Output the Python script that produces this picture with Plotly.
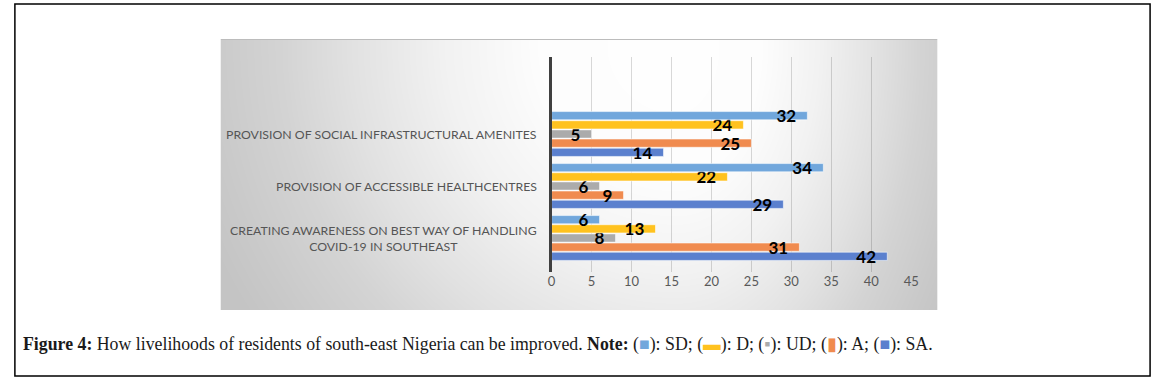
import zlib, struct, base64
import numpy as np
import plotly.graph_objects as go

# ---------------- data ----------------
categories = [
    "PROVISION OF SOCIAL INFRASTRUCTURAL AMENITES",
    "PROVISION OF ACCESSIBLE HEALTHCENTRES",
    "CREATING AWARENESS ON BEST WAY OF HANDLING<br>COVID-19 IN SOUTHEAST",
]
sd_values = [32, 34, 6]
d_values = [24, 22, 13]
ud_values = [5, 6, 8]
a_values = [25, 9, 31]
sa_values = [14, 29, 42]
x_ticks = [0, 5, 10, 15, 20, 25, 30, 35, 40, 45]

series_names = ["SA", "A", "UD", "D", "SD"]
series_values = [sa_values, a_values, ud_values, d_values, sd_values]
series_colors = ["#5B80CE", "#F08B4F", "#ABABAB", "#FFC21F", "#71A7DC"]

W, H = 1166, 384


def px_x(p):
    return p / W


def px_y(p):
    return 1 - p / H


# ---------------- background gradient image ----------------
def png_data_uri(arr):
    h, w = arr.shape
    raw = b"".join(b"\x00" + arr[i].tobytes() for i in range(h))

    def chunk(t, d):
        c = struct.pack(">I", len(d)) + t + d
        return c + struct.pack(">I", zlib.crc32(t + d) & 0xFFFFFFFF)

    png = (b"\x89PNG\r\n\x1a\n"
           + chunk(b"IHDR", struct.pack(">IIBBBBB", w, h, 8, 0, 0, 0, 0))
           + chunk(b"IDAT", zlib.compress(raw, 9))
           + chunk(b"IEND", b""))
    return "data:image/png;base64," + base64.b64encode(png).decode()


bx0, by0, bx1, by1 = 219, 39, 943, 310
gw, gh = bx1 - bx0, by1 - by0
xs = np.arange(gw) + bx0 + 0.5
ys = np.arange(gh) + by0 + 0.5
XX, YY = np.meshgrid(xs, ys)
cx, cy = 680, 45
rx = np.where(XX < cx, 470.0, 290.0)
dd = np.sqrt(((XX - cx) / rx) ** 2 + ((YY - cy) / 460.0) ** 2)
gray = np.interp(dd, [0, 0.3, 0.5, 0.7, 0.85, 1.0, 1.1],
                 [255, 253, 242, 226, 212, 202, 196])
gray[0, :] = 188
bg_uri = png_data_uri(gray.astype(np.uint8))

# ---------------- figure ----------------
fig = go.Figure()
for name, vals, col in zip(series_names, series_values, series_colors):
    fig.add_trace(go.Bar(
        y=categories, x=vals, orientation="h", name=name,
        marker=dict(color=col, line=dict(color="rgba(255,255,255,0.55)", width=1)),
        texttemplate="%{x}\u00a0\u00a0", textposition="inside", textangle=0,
        insidetextanchor="end", constraintext="none",
        textfont=dict(family="Lato", size=17, color="black", weight=700),
        insidetextfont=dict(family="Lato", size=17, color="black", weight=700),
        cliponaxis=False,
    ))

cat_bottom_to_top = categories[::-1]

fig.update_layout(
    width=W, height=H,
    margin=dict(l=0, r=0, t=0, b=0),
    paper_bgcolor="white", plot_bgcolor="rgba(0,0,0,0)",
    barmode="group", bargap=0.12, bargroupgap=0.1,
    showlegend=False,
    xaxis=dict(domain=[px_x(553.3), px_x(916.7)], range=[0, 45],
               tickvals=x_ticks, showgrid=True,
               gridcolor="rgba(0,0,0,0.15)", gridwidth=1,
               zeroline=False, showline=False, ticks="",
               tickfont=dict(family="Lato", size=13, color="#595959")),
    yaxis=dict(domain=[px_y(272), px_y(57)], type="category",
               categoryorder="array", categoryarray=cat_bottom_to_top,
               range=[-0.654, 3.481], showticklabels=False, showgrid=False,
               showline=True, linecolor="#404040", linewidth=3,
               zeroline=False, ticks=""),
    images=[dict(source=bg_uri, xref="paper", yref="paper",
                 x=px_x(bx0), y=px_y(by0), sizex=gw / W, sizey=gh / H,
                 xanchor="left", yanchor="top", sizing="stretch",
                 layer="below")],
    shapes=[dict(type="rect", xref="paper", yref="paper",
                 x0=px_x(11), x1=px_x(1158), y0=px_y(4), y1=px_y(376),
                 line=dict(color="black", width=1.5))],
)

# category labels (centred multi-line, right aligned to the axis)
for cat in categories:
    fig.add_annotation(
        x=px_x(541), xref="paper", y=cat, yref="y",
        text=cat, showarrow=False, xanchor="right", yanchor="middle",
        align="center", font=dict(family="Lato", size=12.3, color="#555555"),
    )

caption = (
    "<b>Figure 4:</b> How livelihoods of residents of south-east Nigeria can be improved. "
    "<b>Note:</b> (<span style='color:#71A7DC'>■</span>): SD; "
    "(<span style='color:#FFC21F'>▬</span>): D; "
    "(<span style='color:#ABABAB'>▪</span>): UD; "
    "(<span style='color:#F08B4F'>▮</span>): A; "
    "(<span style='color:#5B80CE'>■</span>): SA."
)
fig.add_annotation(
    x=px_x(17), y=px_y(344), xref="paper", yref="paper",
    text=caption, showarrow=False, xanchor="left", yanchor="middle",
    align="left", font=dict(family="Liberation Serif", size=17.8, color="#1a1a1a"),
)

fig.write_html("out.html", config={"displayModeBar": False},
               post_script="document.body.style.margin='0';")
